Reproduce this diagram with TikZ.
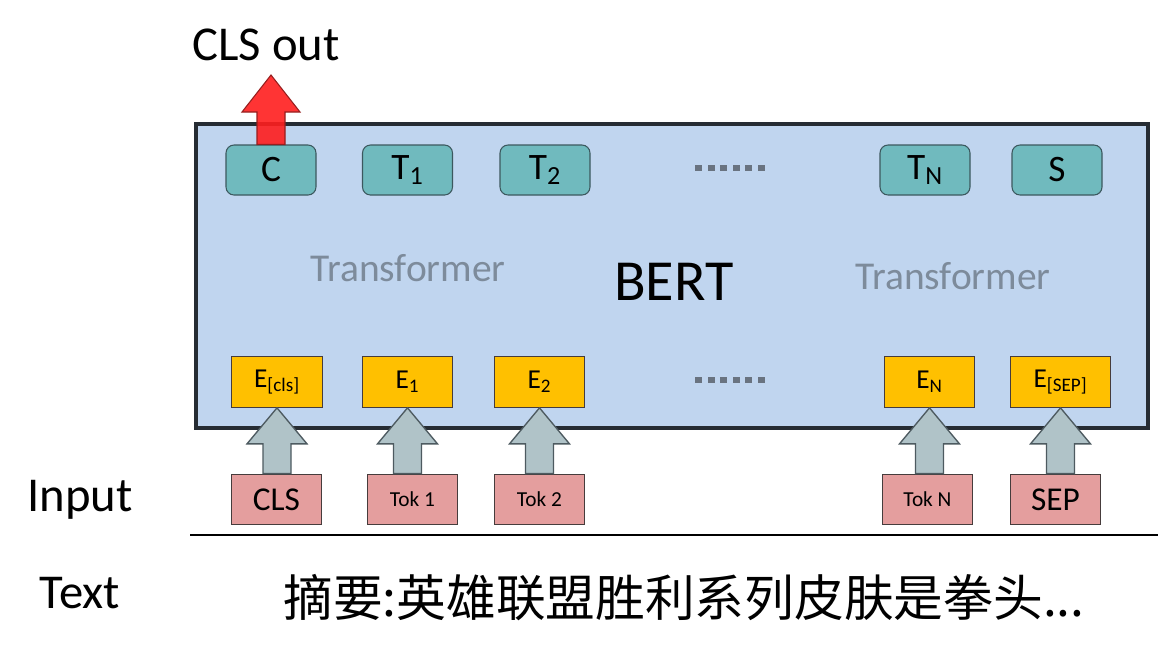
\documentclass[tikz,border=0pt]{standalone}
\usepackage{fontspec}
\setmainfont{Carlito}
\newfontfamily\cjk{Noto Sans CJK SC}
\usetikzlibrary{calc}
\definecolor{boxfill}{RGB}{192,213,239}
\definecolor{boxline}{RGB}{38,44,51}
\definecolor{tealfill}{RGB}{112,186,190}
\definecolor{tealline}{RGB}{60,88,94}
\definecolor{orangefill}{RGB}{255,192,0}
\definecolor{pinkfill}{RGB}{228,158,158}
\definecolor{nodeline}{RGB}{70,60,60}
\definecolor{garrowfill}{RGB}{176,195,200}
\definecolor{garrowline}{RGB}{77,90,96}
\definecolor{tfgray}{RGB}{125,139,155}
\definecolor{dotgray}{RGB}{105,115,128}
\definecolor{redfill}{RGB}{255,30,30}
\definecolor{redline}{RGB}{150,30,30}
\newcommand\sqdots{\rule{5.2pt}{5.2pt}\hspace{4.2pt}\rule{5.2pt}{5.2pt}\hspace{4.2pt}\rule{5.2pt}{5.2pt}\hspace{4.2pt}\rule{5.2pt}{5.2pt}\hspace{4.2pt}\rule{5.2pt}{5.2pt}\hspace{4.2pt}\rule{5.2pt}{5.2pt}}
\tikzset{
  tnode/.style={draw=tealline, fill=tealfill, rounded corners=6pt, line width=0.8pt,
    minimum width=67.5pt, minimum height=37.5pt, inner sep=0pt, font=\fontsize{28}{30}\selectfont},
  enode/.style={draw=nodeline, fill=orangefill, line width=0.8pt,
    minimum width=68pt, minimum height=38pt, inner sep=0pt, font=\fontsize{20.5}{22}\selectfont},
  inode/.style={draw=nodeline, fill=pinkfill, line width=0.8pt,
    minimum width=68pt, minimum height=38pt, inner sep=0pt},
  bigfont/.style={font=\fontsize{25}{27}\selectfont},
  smallfont/.style={font=\fontsize{16}{18}\selectfont},
  label/.style={font=\fontsize{36.5}{40}\selectfont, inner sep=0pt},
  tftext/.style={text=tfgray, font=\fontsize{29.6}{32}\selectfont, inner sep=0pt},
  dots/.style={text=dotgray, inner sep=0pt},
  grayarrow/.style={draw=garrowline, fill=garrowfill, line width=1pt, line join=miter},
  redarrow/.style={draw=redline, fill=redfill, fill opacity=0.9, line width=0.8pt, line join=miter},
}
\newcommand\blockup[2]{%
  \path[grayarrow]
    ($(#2.south |- #1.north)+(-14,0)$) --
    ($(#2.south)+(-14,36)$) --
    ($(#2.south)+(-30,36)$) --
    (#2.south) --
    ($(#2.south)+(30,36)$) --
    ($(#2.south)+(14,36)$) --
    ($(#2.south |- #1.north)+(14,0)$) -- cycle;}
\begin{document}
\begin{tikzpicture}[x=0.75pt,y=-0.75pt]
\useasboundingbox (0,0) rectangle (1161,651);
% main box
\node[draw=boxline, fill=boxfill, line width=3pt, minimum width=714pt, minimum height=228pt, inner sep=0pt] (bert) at (672,276) {};
% labels inside
\node[tftext] (tf1) at (408,268) {Transformer};
\node[tftext] (tf2) at (953,276) {Transformer};
\node[font=\fontsize{43.6}{46}\selectfont, inner sep=0pt] (bertlbl) at (674,282) {BERT};
% top nodes
\node[tnode] (c) at (271,170) {C};
\node[tnode] (t1) at (407.5,170) {T\textsubscript{1}};
\node[tnode] (t2) at (545,170) {T\textsubscript{2}};
\node[dots] (dtop) at (730,168) {\sqdots};
\node[tnode] (tn) at (925,170) {T\textsubscript{N}};
\node[tnode] (s) at (1057,170) {S};
% embedding nodes
\node[enode] (ecls) at (277,382) {E\textsubscript{[cls]}};
\node[enode] (e1) at (407.5,382) {E\textsubscript{1}};
\node[enode] (e2) at (539.5,382) {E\textsubscript{2}};
\node[dots] (dbot) at (730,380) {\sqdots};
\node[enode] (en) at (929.5,382) {E\textsubscript{N}};
\node[enode, minimum width=75.5pt] (esep) at (1060.5,382) {E\textsubscript{[SEP]}};
% input nodes
\node[inode, bigfont] (icls) at (276.5,499.5) {CLS};
\node[inode, smallfont] (itok1) at (412.5,499.5) {Tok 1};
\node[inode, smallfont] (itok2) at (539.5,499.5) {Tok 2};
\node[inode, smallfont] (itokn) at (927.5,499.5) {Tok N};
\node[inode, bigfont] (isep) at (1055.5,499.5) {SEP};
% gray arrows
\blockup{icls}{ecls}
\blockup{itok1}{e1}
\blockup{itok2}{e2}
\blockup{itokn}{en}
\blockup{isep}{esep}
% CLS out
\node[label] (clsout) at (266,45) {CLS out};
\coordinate (redtip) at (270,75);
\path[redarrow]
  ($(c.north)+(-14,0)$) -- ($(c.north |- redtip)+(-14,37)$) --
  ($(c.north |- redtip)+(-29,37)$) -- (c.north |- redtip) --
  ($(c.north |- redtip)+(29,37)$) -- ($(c.north |- redtip)+(14,37)$) --
  ($(c.north)+(14,0)$) -- cycle;
% bottom line and labels
\coordinate (lineL) at (190,535);
\coordinate (lineR) at (1158,535);
\draw[line width=1.5pt, black] (lineL) -- (lineR);
\node[label] (input) at (80,500) {Input};
\node[label] (textlbl) at (80,593) {Text};
\node[font=\cjk\fontsize{37.3}{40}\selectfont, inner sep=0pt, anchor=west] (cn) at (283,598) {摘要:英雄联盟胜利系列皮肤是拳头...};
\end{tikzpicture}
\end{document}
